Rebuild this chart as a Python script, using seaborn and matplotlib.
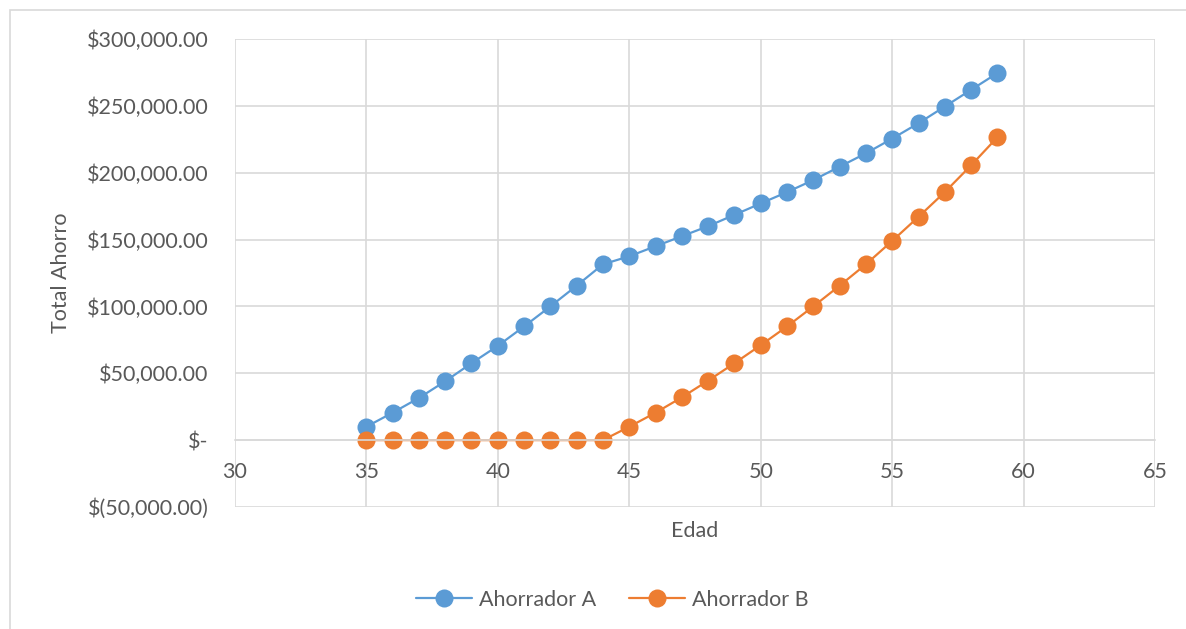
import matplotlib.pyplot as plt
import matplotlib.ticker as mticker
import pandas as pd
import seaborn as sns
from matplotlib.patches import Rectangle

# Datos
edad = list(range(35, 60))
ahorrador_a = [10000, 20500, 31500, 44000, 57500, 70500, 85000, 100000, 115500, 131500,
               137500, 145000, 152500, 160000, 168500, 177000, 185500, 194500, 204500, 214500,
               225500, 237000, 249500, 262000, 274500]
ahorrador_b = [0, 0, 0, 0, 0, 0, 0, 0, 0, 0,
               10000, 20500, 32000, 44500, 57500, 71000, 85000, 100000, 115500, 131500,
               149000, 167000, 185500, 205500, 226500]
series = ['Ahorrador A', 'Ahorrador B']
colores = ['#5B9BD5', '#ED7D31']

df = pd.DataFrame({
    'Edad': edad * 2,
    'Total Ahorro': ahorrador_a + ahorrador_b,
    'Serie': [series[0]] * len(edad) + [series[1]] * len(edad),
})

sns.set_style('white')
plt.rcParams['font.family'] = ['Lato', 'DejaVu Sans']

fig = plt.figure(figsize=(11.86, 6.29), dpi=100)
ax = fig.add_axes([0.198, 0.194, 0.776, 0.744])

# Borde exterior del grafico
fig.patches.append(Rectangle((10 / 1186, -0.1), 1.2, 1.1 - 10 / 629, transform=fig.transFigure,
                             fill=False, edgecolor='#D9D9D9', linewidth=1.2))

sns.lineplot(data=df, x='Edad', y='Total Ahorro', hue='Serie', palette=colores,
             marker='o', markersize=13, markeredgewidth=0, linewidth=1.6, ax=ax, legend=True)

ax.set_xlim(30, 65)
ax.set_ylim(-50000, 300000)
ax.xaxis.set_major_locator(mticker.MultipleLocator(5))
ax.yaxis.set_major_locator(mticker.MultipleLocator(50000))


def moneda(v, pos):
    if abs(v) < 1e-6:
        return '$-'
    if v < 0:
        return '$({:,.2f})'.format(-v)
    return '${:,.2f}'.format(v)


ax.yaxis.set_major_formatter(mticker.FuncFormatter(moneda))
ax.grid(True, color='#D9D9D9', linewidth=1.2)
for s in ['top', 'right', 'left']:
    ax.spines[s].set_visible(False)
ax.spines['bottom'].set_position(('data', 0))
ax.spines['bottom'].set_color('#D9D9D9')
ax.spines['bottom'].set_linewidth(1.2)
ax.tick_params(axis='both', length=0, labelsize=15.5, colors='#595959')
ax.tick_params(axis='y', pad=19)
ax.tick_params(axis='x', pad=16)

ax.set_xlabel('Edad', fontsize=15.5, color='#595959')
ax.xaxis.set_label_coords(0.5, -0.03)
ax.set_ylabel('Total Ahorro', fontsize=15.5, color='#595959')
ax.yaxis.set_label_coords(-0.178, 0.5)

leg = ax.legend(loc='upper center', bbox_to_anchor=(0.41, -0.135), ncol=2, frameon=False,
                fontsize=15.5, handlelength=2.6, handletextpad=0.35, columnspacing=1.5)
for t in leg.get_texts():
    t.set_color('#595959')

fig.savefig('out.png', dpi=100)
